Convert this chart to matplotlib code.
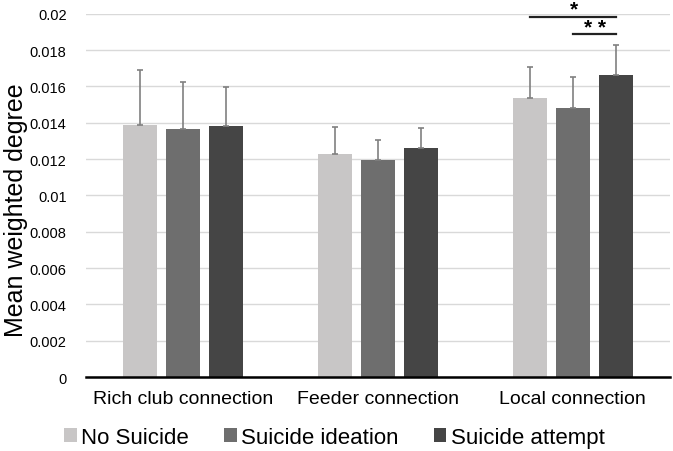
import numpy as np
import matplotlib
matplotlib.use("Agg")
from matplotlib import pyplot as plt

plt.rcParams['font.family'] = ['Liberation Sans', 'DejaVu Sans']

categories = ['Rich club connection', 'Feeder connection', 'Local connection']
groups = ['No Suicide', 'Suicide ideation', 'Suicide attempt']
means = [
    [0.0139, 0.0123, 0.01535],   # No Suicide
    [0.01363, 0.01194, 0.01481], # Suicide ideation
    [0.01383, 0.01258, 0.01661], # Suicide attempt
]
upper = [
    [0.01692, 0.01375, 0.01707],
    [0.01626, 0.01306, 0.01652],
    [0.01597, 0.01368, 0.01826],
]
colors = ['#c8c6c6', '#6e6e6e', '#454545']
yticks = [0, 0.002, 0.004, 0.006, 0.008, 0.01, 0.012, 0.014, 0.016, 0.018, 0.02]
ytick_labels = ['0', '0.002', '0.004', '0.006', '0.008', '0.01', '0.012',
                '0.014', '0.016', '0.018', '0.02']

fig = plt.figure(figsize=(6.73, 4.52), dpi=100)
ax = fig.add_axes([0.1278, 0.1637, 0.8677, 0.8038])

x = np.arange(len(categories))
width = 0.175
step = 0.221
for k, grp in enumerate(groups):
    pos = x + (k - 1) * step
    m = np.array(means[k])
    err = np.array(upper[k]) - m
    ax.bar(pos, m, width, color=colors[k], label=grp, zorder=2)
    ax.errorbar(pos, m, yerr=[np.zeros_like(err), err], fmt='none',
                ecolor='#808080', elinewidth=1.2, capsize=2.5, capthick=1.2, zorder=3)

# significance markers on Local connection
loc = x[2]
ax.plot([loc - step, loc + step], [0.01982, 0.01982], color='#222222', lw=1.6, clip_on=False)
ax.plot([loc, loc + step], [0.01888, 0.01888], color='#222222', lw=1.6, clip_on=False)
ax.text(loc + 0.005, 0.01976, '*', ha='center', va='bottom', fontsize=15, fontweight='bold')
ax.text(loc + step / 2 + 0.005, 0.01870, '* *', ha='center', va='bottom', fontsize=15,
        fontweight='bold')

ax.set_xlim(-0.5, 2.5)
ax.set_ylim(0, 0.02)
ax.set_yticks(yticks)
ax.set_yticklabels(ytick_labels, fontsize=10.5)
ax.set_xticks(x)
ax.set_xticklabels(categories, fontsize=14)
ax.tick_params(axis='y', length=0, pad=14)
ax.tick_params(axis='x', length=0, pad=9)
ax.set_ylabel('Mean weighted degree', fontsize=18)
ax.yaxis.set_label_coords(-0.100, 0.462)
ax.yaxis.grid(True, color='#d9d9d9', lw=1, zorder=0)
ax.set_axisbelow(True)
for s in ['left', 'right', 'top']:
    ax.spines[s].set_visible(False)
ax.spines['bottom'].set_linewidth(1.8)

fig.legend(loc='center', bbox_to_anchor=(0.497, 0.030), ncol=3, frameon=False,
           fontsize=16, handlelength=0.55, handleheight=0.55, handletextpad=0.2,
           columnspacing=1.6)

fig.savefig('out.png', dpi=100)
